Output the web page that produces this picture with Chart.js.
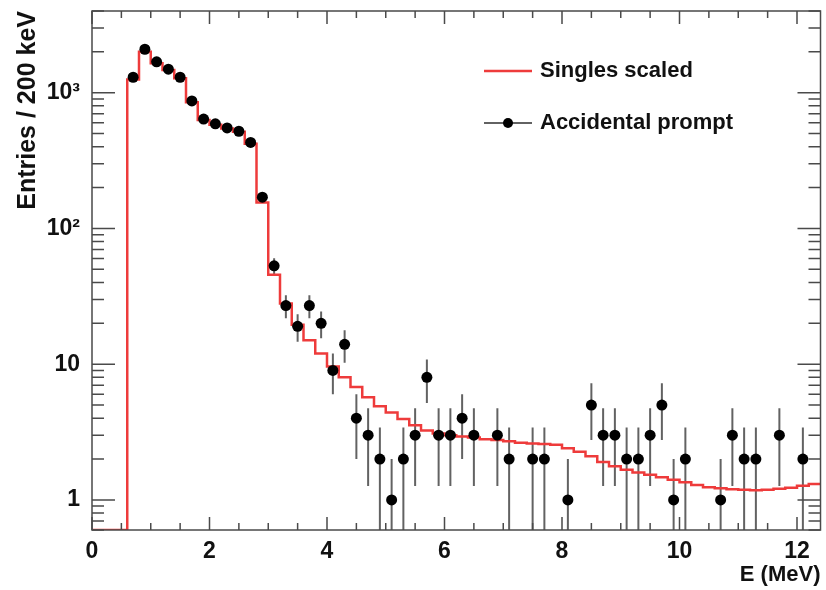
<!DOCTYPE html>
<html lang="en">
<head>
<meta charset="UTF-8">
<title>Singles scaled vs accidental prompt</title>
<script src="https://cdn.jsdelivr.net/npm/chart.js"></script>
<style>
  body { margin: 0; background: #fff; }
  #wrap { width: 826px; height: 590px; }
</style>
</head>
<body>
<div id="wrap"><canvas id="spec"></canvas></div>
<script>
// singles spectrum, 200 keV bins starting at 0 MeV (one value per bin)
const BIN_WIDTH = 0.2;
const singles = [
  0, 0, 0, 1250, 2000, 1650, 1470, 1280, 850, 630,
  580, 545, 515, 420, 155, 45.5, 28, 19.5, 15, 12,
  9.6, 8, 6.8, 5.7, 4.9, 4.4, 3.95, 3.55, 3.25, 3.08,
  3.0, 2.93, 2.88, 2.8, 2.76, 2.7, 2.64, 2.6, 2.58, 2.55,
  2.4, 2.26, 2.1, 1.9, 1.77, 1.67, 1.59, 1.53, 1.47, 1.41,
  1.35, 1.29, 1.24, 1.22, 1.2, 1.19, 1.18, 1.19, 1.21, 1.23,
  1.27, 1.31, 1.34
];

// accidental prompt: bin centres (MeV) and entries
const accE = [
  0.7, 0.9, 1.1, 1.3, 1.5, 1.7, 1.9, 2.1, 2.3, 2.5,
  2.7, 2.9, 3.1, 3.3, 3.5, 3.7, 3.9, 4.1, 4.3, 4.5,
  4.7, 4.9, 5.1, 5.3, 5.5, 5.7, 5.9, 6.1, 6.3, 6.5,
  6.9, 7.1, 7.5, 7.7, 8.1, 8.5, 8.7, 8.9, 9.1, 9.3,
  9.5, 9.7, 9.9, 10.1, 10.7, 10.9, 11.1, 11.3, 11.7, 12.1
];
const accN = [
  1300, 2090, 1690, 1490, 1300, 870, 640, 590, 550, 520,
  430, 170, 53, 27, 19, 27, 20, 9, 14, 4,
  3, 2, 1, 2, 3, 8, 3, 3, 4, 3,
  3, 2, 2, 2, 1, 5, 3, 3, 2, 2,
  3, 5, 1, 2, 1, 3, 2, 2, 3, 2
];

const X_TICKS = [0, 2, 4, 6, 8, 10, 12];
const Y_LABELS = { 1: '1', 10: '10', 100: '10²', 1000: '10³' };
const X_MIN = 0, X_MAX = 12.4, Y_MIN = 0.6, Y_MAX = 4000;

const FONT = '"Liberation Sans", Arial, Helvetica, sans-serif';
const RED = '#ee3b3b';

// step histogram points at the low edge of each bin, plus closing edge
const histPts = singles.map((v, i) => ({ x: i * BIN_WIDTH, y: v > 0 ? v : Y_MIN }));
histPts.push({ x: singles.length * BIN_WIDTH, y: singles[singles.length - 1] });

const accPts = accE.map((e, i) => ({ x: e, y: accN[i] }));

// ROOT-like frame, inside ticks, error bars and legend
const rootStyle = {
  id: 'rootStyle',
  beforeDatasetsDraw(chart) {
    const { ctx, chartArea: a, scales: { x, y } } = chart;
    ctx.save();
    ctx.beginPath();
    ctx.rect(a.left, a.top, a.right - a.left, a.bottom - a.top);
    ctx.clip();
    ctx.strokeStyle = '#626262';
    ctx.lineWidth = 2;
    accE.forEach((e, i) => {
      const n = accN[i], s = Math.sqrt(n);
      const px = x.getPixelForValue(e);
      const lo = n - s > Y_MIN ? y.getPixelForValue(n - s) : a.bottom;
      const hi = y.getPixelForValue(n + s);
      ctx.beginPath();
      ctx.moveTo(px, lo);
      ctx.lineTo(px, hi);
      ctx.stroke();
    });
    ctx.restore();
  },
  afterDraw(chart) {
    const { ctx, chartArea: a, scales: { x, y } } = chart;
    ctx.save();
    ctx.strokeStyle = '#4a4a4a';
    ctx.lineWidth = 1.5;
    ctx.strokeRect(a.left, a.top, a.right - a.left, a.bottom - a.top);

    // x ticks, bottom and top
    for (let v = 0; v <= X_MAX + 1e-9; v += 0.5) {
      const px = x.getPixelForValue(v);
      const len = X_TICKS.includes(v) ? 13 : 7;
      ctx.beginPath();
      ctx.moveTo(px, a.bottom); ctx.lineTo(px, a.bottom - len);
      ctx.moveTo(px, a.top); ctx.lineTo(px, a.top + len);
      ctx.stroke();
    }
    // y ticks, left and right
    [0.1, 1, 10, 100, 1000].forEach(d => {
      for (let m = 1; m <= 9; m++) {
        const v = d * m;
        if (v < Y_MIN || v > Y_MAX) continue;
        const py = y.getPixelForValue(v);
        const len = m === 1 ? 23 : 12;
        ctx.beginPath();
        ctx.moveTo(a.left, py); ctx.lineTo(a.left + len, py);
        ctx.moveTo(a.right, py); ctx.lineTo(a.right - len, py);
        ctx.stroke();
      }
    });

    // legend
    ctx.font = 'bold 22px ' + FONT;
    ctx.fillStyle = '#111';
    ctx.textBaseline = 'middle';
    ctx.strokeStyle = RED;
    ctx.lineWidth = 2.5;
    ctx.beginPath(); ctx.moveTo(484, 71); ctx.lineTo(532, 71); ctx.stroke();
    ctx.fillText('Singles scaled', 540, 71);
    ctx.strokeStyle = '#626262';
    ctx.lineWidth = 2;
    ctx.beginPath(); ctx.moveTo(484, 123); ctx.lineTo(532, 123); ctx.stroke();
    ctx.beginPath(); ctx.arc(508, 123, 5, 0, Math.PI * 2); ctx.fillStyle = '#000'; ctx.fill();
    ctx.fillStyle = '#111';
    ctx.fillText('Accidental prompt', 540, 123);
    ctx.restore();
  }
};

new Chart(document.getElementById('spec'), {
  type: 'scatter',
  data: {
    datasets: [
      {
        label: 'Accidental prompt',
        data: accPts,
        showLine: false,
        pointRadius: 5.5,
        pointBackgroundColor: '#000',
        pointBorderColor: '#000',
        pointBorderWidth: 0
      },
      {
        label: 'Singles scaled',
        data: histPts,
        showLine: true,
        stepped: true,
        borderColor: RED,
        borderWidth: 2.5,
        pointRadius: 0,
        fill: false
      }
    ]
  },
  plugins: [rootStyle],
  options: {
    responsive: true,
    maintainAspectRatio: false,
    animation: false,
    layout: { padding: { top: 11, right: 3, left: 0, bottom: 0 } },
    plugins: { legend: { display: false }, tooltip: { enabled: false } },
    scales: {
      x: {
        type: 'linear',
        min: X_MIN,
        max: X_MAX,
        afterFit(s) { s.height = 60; s.paddingLeft = 0; s.paddingRight = 0; },
        grid: { display: false, drawTicks: false },
        border: { display: false },
        ticks: {
          stepSize: 2,
          includeBounds: false,
          padding: 8,
          color: '#111',
          font: { family: FONT, size: 23, weight: 'bold' },
          callback: v => (X_TICKS.includes(v) ? String(v) : '')
        },
        title: {
          display: true,
          text: 'E (MeV)',
          align: 'end',
          color: '#111',
          padding: { top: 0, bottom: 2 },
          font: { family: FONT, size: 22, weight: 'bold' }
        }
      },
      y: {
        type: 'logarithmic',
        min: Y_MIN,
        max: Y_MAX,
        afterFit(s) { s.width = 92; s.paddingTop = 0; s.paddingBottom = 0; },
        grid: { display: false, drawTicks: false },
        border: { display: false },
        ticks: {
          padding: 12,
          autoSkip: false,
          color: '#111',
          font: { family: FONT, size: 23, weight: 'bold' },
          callback: v => Y_LABELS[v] || ''
        },
        title: {
          display: true,
          text: 'Entries / 200 keV',
          align: 'end',
          color: '#111',
          padding: { top: 13, bottom: 0 },
          font: { family: FONT, size: 25, weight: 'bold' }
        }
      }
    }
  }
});
</script>
</body>
</html>
